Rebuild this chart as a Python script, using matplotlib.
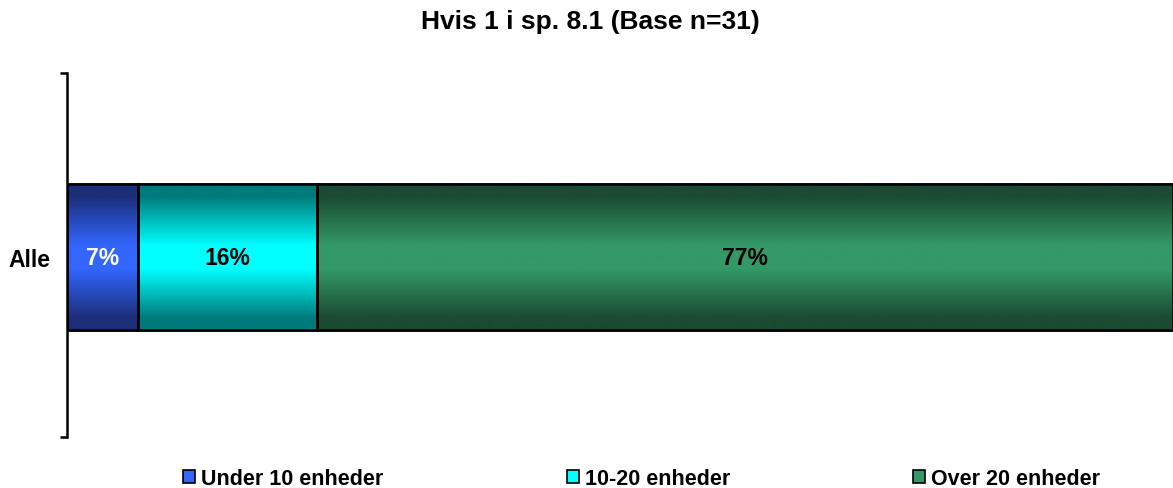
import numpy as np
import matplotlib
matplotlib.use("Agg")
import matplotlib.pyplot as plt
from matplotlib.colors import LinearSegmentedColormap
from matplotlib.patches import Patch

plt.rcParams['font.family'] = ['Liberation Sans', 'DejaVu Sans']
plt.rcParams['font.weight'] = 'bold'

# Data
category = "Alle"
series = ["Under 10 enheder", "10-20 enheder", "Over 20 enheder"]
values = [6.45, 16.13, 77.42]          # 2/31, 5/31, 24/31
value_labels = ["7%", "16%", "77%"]
title = "Hvis 1 i sp. 8.1 (Base n=31)"

# Colour pairs: (edge shade, centre shade) for the cylinder-like gradient
shades = [("#1c2e78", "#3366ff"), ("#007a7a", "#00ffff"), ("#1c4a32", "#339966")]
text_colors = ["white", "black", "black"]

fig = plt.figure(figsize=(11.73, 4.89), dpi=100)
ax = fig.add_axes([67 / 1173, 1 - 438 / 489, 1 - 67 / 1173, (438 - 74) / 489])

bar_h = 0.40
y0 = -0.006
left = 0
for val, lab, (dark, light), tc in zip(values, value_labels, shades, text_colors):
    bar = ax.barh(y0, val, left=left, height=bar_h, color=light,
                  edgecolor="black", linewidth=1.8, zorder=2)[0]
    cmap = LinearSegmentedColormap.from_list(
        "g", [(0, dark), (0.08, dark), (0.42, light), (0.58, light), (0.92, dark), (1, dark)])
    grad = np.linspace(0, 1, 256).reshape(-1, 1)
    im = ax.imshow(grad, cmap=cmap, aspect="auto", zorder=2.5,
                   extent=[left, left + val, y0 - bar_h / 2, y0 + bar_h / 2], origin="lower")
    im.set_clip_path(bar)
    ax.barh(y0, val, left=left, height=bar_h, fill=False,
            edgecolor="black", linewidth=1.8, zorder=3)
    ax.text(left + val / 2, y0, lab, ha="center", va="center", color=tc,
            fontsize=16.5, fontweight="bold", zorder=4)
    left += val

ax.set_xlim(0, 100)
ax.set_ylim(-0.5, 0.5)

for s in ["top", "right", "bottom"]:
    ax.spines[s].set_visible(False)
ax.spines["left"].set_linewidth(1.8)
ax.set_xticks([])

ax.set_yticks([y0])
ax.set_yticklabels([category], fontsize=16.5, fontweight="bold")
ax.tick_params(axis="y", which="major", length=0, pad=12)
ax.set_yticks([-0.5, 0.5], minor=True)
ax.tick_params(axis="y", which="minor", length=5, width=1.8, direction="out")

fig.text(0.503, 1 - 22 / 489, title, ha="center", va="center",
         fontsize=19, fontweight="bold")

handles = [Patch(facecolor=light, edgecolor="black", linewidth=1.2) for _, light in shades]
fig.legend(handles, series, loc="center", bbox_to_anchor=(0.547, 1 - 480 / 489),
           ncol=3, frameon=False, handlelength=0.56, handleheight=0.56,
           handletextpad=0.28, columnspacing=8.5,
           prop={"size": 15.5, "weight": "bold"})

fig.savefig("out.png", dpi=100)
